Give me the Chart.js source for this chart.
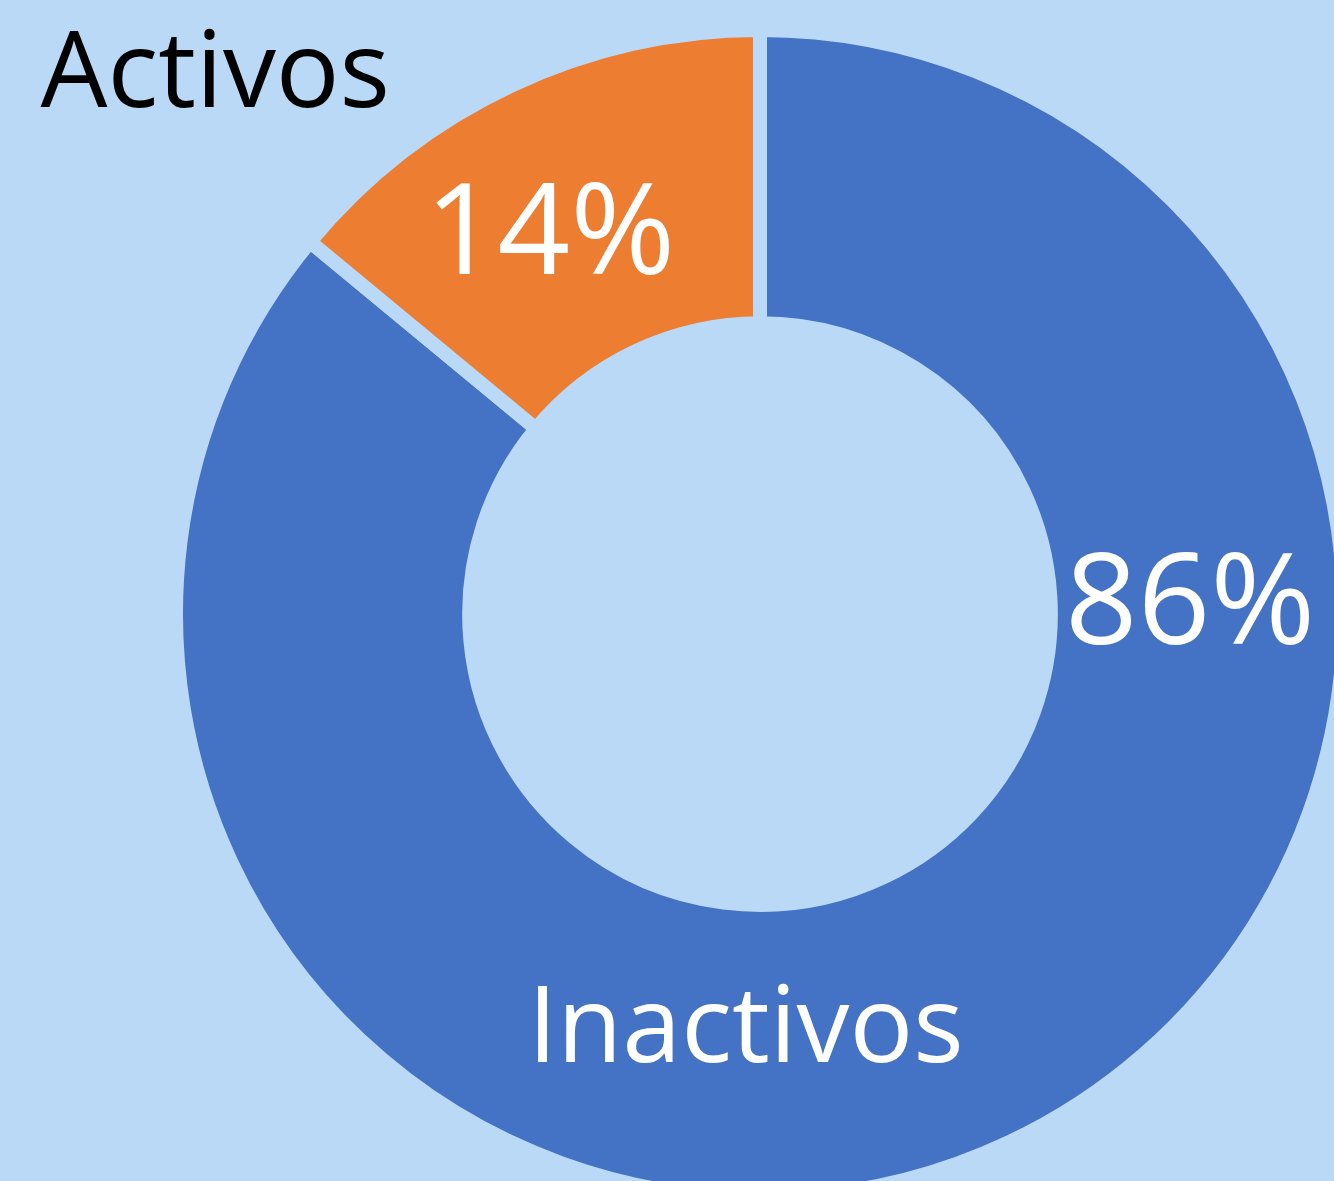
<!DOCTYPE html>
<html>
<head>
<meta charset="utf-8">
<script src="https://cdn.jsdelivr.net/npm/chart.js@4.4.0/dist/chart.umd.min.js"></script>
<style>
  html, body {
    margin: 0;
    padding: 0;
    width: 1334px;
    height: 1181px;
    overflow: hidden;
    background: #BAD9F7;
  }
  #wrap {
    position: absolute;
    left: 0;
    top: 0;
    width: 1351px;
    height: 1205px;
  }
</style>
</head>
<body>
<div id="wrap"><canvas id="myChart"></canvas></div>
<script>
const labels = ['Inactivos', 'Activos'];
const values = [86, 14];
const percentLabels = ['86%', '14%'];
const colors = ['#4472C4', '#ED7D31'];
const bgColor = '#BAD9F7';

// where each label sits: angle from 12 o'clock (deg) and radius as a share of the ring's outer edge
const namePlacement = [
  { angle: 182, r: 0.711, color: '#FFFFFF' },
  { angle: 315, r: 1.335, color: '#000000' }
];
const pctPlacement = [
  { angle: 88, r: 0.746 },
  { angle: 331.4, r: 0.760 }
];

const ringLabels = {
  id: 'ringLabels',
  afterDraw(chart) {
    const ctx = chart.ctx;
    const arcs = chart.getDatasetMeta(0).data;
    const bw = chart.data.datasets[0].borderWidth;
    ctx.save();
    ctx.textAlign = 'center';
    ctx.textBaseline = 'alphabetic';
    arcs.forEach(function (arc, i) {
      const outer = arc.outerRadius - bw / 2;
      const put = function (text, place, size, color) {
        const a = place.angle * Math.PI / 180;
        const x = arc.x + Math.sin(a) * outer * place.r;
        const y = arc.y - Math.cos(a) * outer * place.r;
        ctx.font = size + 'px "Open Sans"';
        ctx.fillStyle = color;
        ctx.fillText(text, x, y + size * 0.357);
      };
      put(labels[i], namePlacement[i], 106, namePlacement[i].color);
      put(percentLabels[i], pctPlacement[i], 127, '#FFFFFF');
    });
    ctx.restore();
  }
};

const data = {
  labels: labels,
  datasets: [{
    data: values,
    backgroundColor: colors,
    borderColor: bgColor,
    borderWidth: 14,
    hoverOffset: 0
  }]
};

const config = {
  type: 'doughnut',
  data: data,
  options: {
    responsive: true,
    maintainAspectRatio: false,
    animation: false,
    cutout: '49.8%',
    layout: { padding: { left: 169, top: 23, right: 0, bottom: 0 } },
    plugins: {
      legend: { display: false },
      tooltip: { enabled: false }
    }
  },
  plugins: [ringLabels]
};

const myChart = new Chart(
  document.getElementById('myChart'),
  config
);
</script>
</body>
</html>
